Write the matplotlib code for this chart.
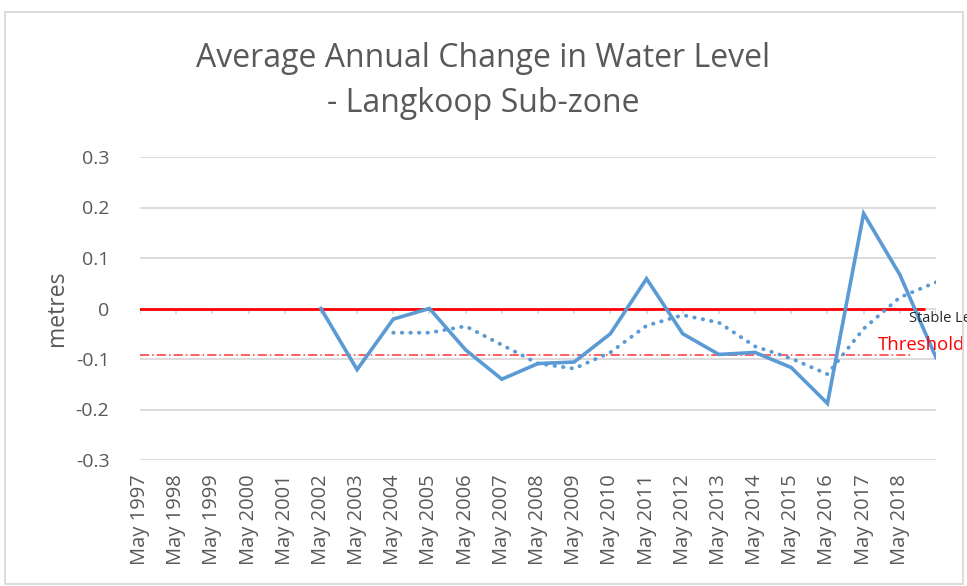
import matplotlib.pyplot as plt
import numpy as np
from matplotlib.patches import Rectangle

plt.rcParams['font.family'] = ['Open Sans', 'DejaVu Sans']

# --- Daten --- #
years = [f"May {y}" for y in range(1997, 2019)] + [""]
level_change = [np.nan] * 5 + [0.0, -0.121, -0.021, 0.0, -0.082, -0.140, -0.109, -0.106,
                               -0.050, 0.059, -0.050, -0.091, -0.087, -0.117, -0.188,
                               0.188, 0.067, -0.097]
moving_avg = [np.nan] * 7 + [-0.048, -0.048, -0.035, -0.072, -0.109, -0.119, -0.087,
                             -0.034, -0.013, -0.028, -0.075, -0.099, -0.130, -0.040,
                             0.022, 0.052]
stable_level = 0.0
threshold = -0.093
y_ticks = [-0.3, -0.2, -0.1, 0, 0.1, 0.2, 0.3]

grey = '#595959'
grid_grey = '#d9d9d9'
blue = '#5b9bd5'


def main():
    fig = plt.figure(figsize=(9.67, 5.86), dpi=100)
    ax = fig.add_axes([140 / 967, 126 / 586, 796 / 967, 303 / 586])

    x = np.arange(len(years))

    # Gitternetz
    for yt in y_ticks:
        ax.axhline(yt, color=grid_grey, lw=1.3, zorder=1)

    # Kategorie-Ticks auf der Nulllinie
    ax.vlines(x, -0.011, 0, color=grid_grey, lw=1.3, zorder=1)

    ax.hlines(stable_level, -0.08, 21.7, color='#ff0000', lw=2, zorder=2)
    ax.hlines(threshold, 0, 21.3, color='#ff3333', lw=1.1, linestyles=(0, (6, 2, 1, 2)), zorder=2)

    ax.plot(x, level_change, color=blue, lw=2.6, zorder=3, solid_joinstyle='miter')
    ax.plot(x, moving_avg, color=blue, lw=2.8, linestyle=(0, (0.1, 2.1)),
            dash_capstyle='round', zorder=3)

    ax.text(21.25, stable_level - 0.02, 'Stable Level', fontsize=10.5, color='#262626',
            va='center', ha='left', clip_on=False)
    ax.text(20.4, threshold + 0.021, 'Threshold', fontsize=13.3, color='#ff0000',
            va='center', ha='left', clip_on=False)

    ax.set_xlim(0, len(years) - 1)
    ax.set_ylim(-0.3, 0.3)
    ax.set_yticks(y_ticks)
    ax.set_yticklabels([f"{v:g}" for v in y_ticks], fontsize=14, color=grey)
    ax.set_xticks(x)
    ax.set_xticklabels(years, rotation=90, fontsize=14.5, color=grey)
    ax.tick_params(axis='both', length=0)
    ax.tick_params(axis='x', pad=10)
    ax.tick_params(axis='y', pad=22)
    for s in ax.spines.values():
        s.set_visible(False)

    ax.set_ylabel('metres', fontsize=16.5, color=grey, labelpad=5)

    fig.text(0.5, 1 - 81 / 586, 'Average Annual Change in Water Level\n- Langkoop Sub-zone',
             ha='center', va='center', fontsize=23, color=grey, linespacing=1.45)

    # Rahmen des Diagrammbereichs
    fig.patches.append(Rectangle((5 / 967, 2 / 586), 958 / 967, 572 / 586,
                                 transform=fig.transFigure, fill=False,
                                 edgecolor=grid_grey, lw=1.3))

    fig.savefig('out.png', dpi=100)


if __name__ == "__main__":
    main()
